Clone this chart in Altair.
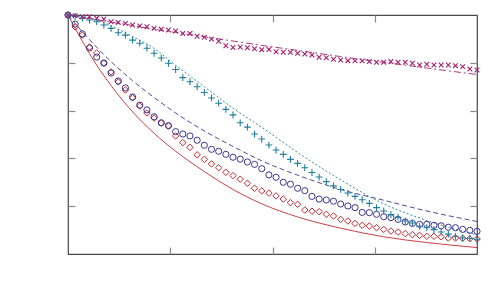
import altair as alt
import pandas as pd

# sample index (x) for the measured points
idx = list(range(58))

red_pts = [1.000, 0.950, 0.916, 0.866, 0.841, 0.799, 0.762, 0.720, 0.686, 0.653,
           0.619, 0.590, 0.569, 0.548, 0.536, 0.494, 0.466, 0.446, 0.415, 0.396,
           0.377, 0.361, 0.342, 0.328, 0.313, 0.296, 0.275, 0.264, 0.255, 0.243,
           0.230, 0.215, 0.208, 0.184, 0.179, 0.177, 0.166, 0.159, 0.145, 0.138,
           0.128, 0.120, 0.117, 0.110, 0.103, 0.096, 0.092, 0.085, 0.081, 0.078,
           0.074, 0.074, 0.072, 0.067, 0.067, 0.066, 0.064, 0.063]

navy_pts = [1.000, 0.962, 0.921, 0.862, 0.824, 0.799, 0.757, 0.724, 0.695, 0.657,
            0.623, 0.603, 0.574, 0.549, 0.537, 0.512, 0.502, 0.494, 0.476, 0.455,
            0.438, 0.430, 0.417, 0.405, 0.397, 0.385, 0.375, 0.357, 0.331, 0.321,
            0.300, 0.292, 0.275, 0.265, 0.241, 0.230, 0.226, 0.221, 0.209, 0.201,
            0.194, 0.174, 0.173, 0.166, 0.156, 0.152, 0.145, 0.134, 0.128, 0.124,
            0.124, 0.120, 0.118, 0.112, 0.110, 0.103, 0.099, 0.095]

teal_pts = [1.000, 0.994, 0.986, 0.979, 0.972, 0.958, 0.944, 0.926, 0.916, 0.895,
            0.882, 0.861, 0.840, 0.820, 0.798, 0.772, 0.738, 0.721, 0.700, 0.676,
            0.653, 0.631, 0.605, 0.582, 0.549, 0.531, 0.502, 0.481, 0.456, 0.435,
            0.417, 0.396, 0.379, 0.361, 0.341, 0.322, 0.303, 0.285, 0.270, 0.255,
            0.241, 0.227, 0.212, 0.194, 0.180, 0.165, 0.154, 0.138, 0.130, 0.116,
            0.110, 0.102, 0.092, 0.083, 0.074, 0.067, 0.065, 0.062]

mag_pts = [1.000, 0.997, 0.993, 0.993, 0.986, 0.983, 0.972, 0.969, 0.965, 0.958,
           0.954, 0.951, 0.944, 0.940, 0.937, 0.933, 0.923, 0.923, 0.911, 0.907,
           0.899, 0.890, 0.871, 0.864, 0.866, 0.863, 0.859, 0.855, 0.856, 0.846,
           0.844, 0.844, 0.840, 0.837, 0.833, 0.823, 0.821, 0.815, 0.812, 0.809,
           0.808, 0.808, 0.805, 0.802, 0.802, 0.805, 0.802, 0.802, 0.798, 0.791,
           0.794, 0.791, 0.791, 0.791, 0.788, 0.784, 0.774, 0.770]

# fitted curves, sampled
line_x = [0, 2, 4, 6, 9, 12, 15, 19, 23, 27, 32, 38, 44, 50, 57]
red_fit = [1.0, 0.89, 0.79, 0.705, 0.595, 0.505, 0.43, 0.345, 0.27, 0.21,
           0.155, 0.108, 0.072, 0.048, 0.027]
navy_fit = [1.0, 0.93, 0.865, 0.805, 0.725, 0.655, 0.59, 0.515, 0.45, 0.39,
            0.33, 0.27, 0.225, 0.18, 0.136]
teal_fit = [1.0, 0.995, 0.98, 0.955, 0.91, 0.86, 0.79, 0.70, 0.61, 0.53,
            0.425, 0.31, 0.21, 0.14, 0.08]
mag_fit = [1.0, 0.99, 0.98, 0.97, 0.956, 0.94, 0.927, 0.909, 0.891, 0.873,
           0.852, 0.826, 0.802, 0.778, 0.751]

x_ticks = [14.25, 28.5, 42.75]
y_ticks = [0.2, 0.4, 0.6, 0.8]

RED = "#c42a30"
NAVY = "#3e3590"
TEAL = "#1f7f9e"
MAG = "#a5206f"

pts = pd.DataFrame({"x": idx, "red": red_pts, "navy": navy_pts,
                    "teal": teal_pts, "mag": mag_pts})
fit = pd.DataFrame({"x": line_x, "red": red_fit, "navy": navy_fit,
                    "teal": teal_fit, "mag": mag_fit})

xs = alt.Scale(domain=[0, 57], nice=False, zero=False)
ys = alt.Scale(domain=[0, 1], nice=False, zero=False)

tick_axis = dict(labels=False, domain=False, grid=False, title=None,
                 ticks=True, tickSize=7, tickColor="#8a8a8a", tickWidth=1.2)


def X(col="x"):
    return alt.X(f"{col}:Q", scale=xs, axis=None)


def Y(col):
    return alt.Y(f"{col}:Q", scale=ys, axis=None)


base_p = alt.Chart(pts)
base_f = alt.Chart(fit)

axes_bl = base_p.mark_point(opacity=0).encode(
    x=alt.X("x:Q", scale=xs,
            axis=alt.Axis(values=x_ticks, orient="bottom", offset=-7, **tick_axis)),
    y=alt.Y("red:Q", scale=ys,
            axis=alt.Axis(values=y_ticks, orient="left", offset=-7, **tick_axis)),
)
axes_tr = base_p.mark_point(opacity=0).encode(
    x=alt.X("x:Q", scale=xs,
            axis=alt.Axis(values=x_ticks, orient="top", offset=-7, **tick_axis)),
    y=alt.Y("mag:Q", scale=ys,
            axis=alt.Axis(values=y_ticks, orient="right", offset=-7, **tick_axis)),
)

lines = []
for col, colr, dash in [("red", RED, []), ("navy", NAVY, [5, 3]),
                        ("teal", TEAL, [2, 2]), ("mag", MAG, [7, 3, 2, 3])]:
    kw = dict(color=colr, strokeWidth=0.9, interpolate="monotone")
    if dash:
        kw["strokeDash"] = dash
    lines.append(base_f.mark_line(**kw).encode(x=X(), y=Y(col)))

plus = "M-1,0L1,0M0,-1L0,1"
cross = "M-1,-1L1,1M-1,1L1,-1"

p_red = base_p.mark_point(shape="diamond", size=42, filled=False, color=RED,
                          opacity=1, strokeWidth=1).encode(x=X(), y=Y("red"))
p_navy = base_p.mark_point(shape="circle", size=38, filled=False, color=NAVY,
                           opacity=1, strokeWidth=1).encode(x=X(), y=Y("navy"))
p_teal = base_p.mark_point(shape=plus, size=46, filled=False, color=TEAL,
                           opacity=1, strokeWidth=1.1).encode(x=X(), y=Y("teal"))
p_mag = base_p.mark_point(shape=cross, size=22, filled=False, color=MAG,
                          opacity=1, strokeWidth=1.1).encode(x=X(), y=Y("mag"))

chart = alt.layer(axes_bl, axes_tr, *lines, p_red, p_navy, p_teal, p_mag).resolve_axis(
    x="independent", y="independent"
).properties(
    width=409, height=239,
    autosize=alt.AutoSizeParams(type="none"),
    padding={"left": 60, "top": 7, "right": 15, "bottom": 30},
).configure_view(stroke="#4a4a4a", strokeWidth=1.2)

chart.save("out.html", embed_options={"renderer": "svg", "actions": False})
